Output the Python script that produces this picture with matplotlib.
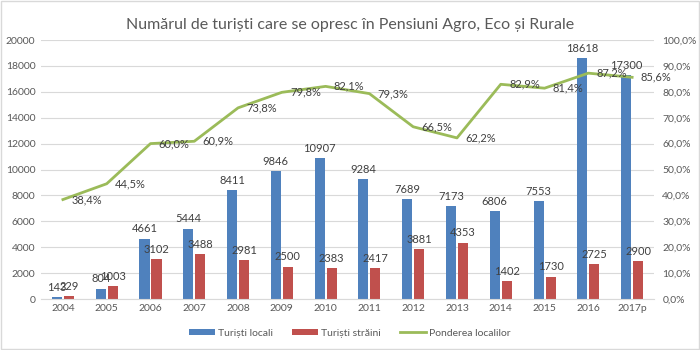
import matplotlib
matplotlib.use("Agg")
import matplotlib.pyplot as plt
import numpy as np

years = ["2004", "2005", "2006", "2007", "2008", "2009", "2010", "2011", "2012",
         "2013", "2014", "2015", "2016", "2017p"]
locali = [143, 804, 4661, 5444, 8411, 9846, 10907, 9284, 7689, 7173, 6806, 7553, 18618, 17300]
straini = [229, 1003, 3102, 3488, 2981, 2500, 2383, 2417, 3881, 4353, 1402, 1730, 2725, 2900]
pondere = [38.4, 44.5, 60.0, 60.9, 73.8, 79.8, 82.1, 79.3, 66.5, 62.2, 82.9, 81.4, 87.2, 85.6]

plt.rcParams['font.family'] = ['Lato', 'DejaVu Sans']
txt = '#595959'
lbl = '#404040'
blue = '#4F81BD'
red = '#C0504D'
green = '#9BBB59'

fig = plt.figure(figsize=(7, 3.5), dpi=100)
ax = fig.add_axes([0.0586, 0.1457, 0.8757, 0.74])
x = np.arange(len(years))
w = 0.23
off = 0.137
b1 = ax.bar(x - off, locali, w, color=blue, label='Turiști locali', zorder=2)
b2 = ax.bar(x + off, straini, w, color=red, label='Turiști străini', zorder=2)
ax.set_ylim(0, 20000)
ax.set_yticks(range(0, 20001, 2000))
ax.set_xlim(-0.5, len(years) - 0.5)
ax.set_xticks(x)
ax.set_xticklabels(years)
ax.tick_params(axis='both', length=0, colors=txt, labelsize=7.5)
ax.tick_params(axis='y', pad=4)
ax.grid(axis='y', color='#D9D9D9', linewidth=0.8, zorder=0)
for s in ['top', 'right', 'left']:
    ax.spines[s].set_visible(False)
ax.spines['bottom'].set_color('#D9D9D9')
for xi, v in zip(x - off, locali):
    ax.annotate(str(v), (xi, v), xytext=(0, 3), textcoords='offset points',
                ha='center', va='bottom', fontsize=8, color=lbl)
for xi, v in zip(x + off, straini):
    ax.annotate(str(v), (xi, v), xytext=(0, 3), textcoords='offset points',
                ha='center', va='bottom', fontsize=8, color=lbl)

ax2 = ax.twinx()
ax2.plot(x, pondere, color=green, linewidth=2, label='Ponderea localilor', zorder=3)
ax2.set_ylim(0, 100)
ax2.set_yticks(range(0, 101, 10))
ax2.set_yticklabels([f"{v:.1f}%".replace('.', ',') for v in range(0, 101, 10)])
ax2.tick_params(axis='y', length=0, colors=txt, labelsize=7.5, pad=6)
for s in ['top', 'right', 'left', 'bottom']:
    ax2.spines[s].set_visible(False)
for xi, v in zip(x, pondere):
    ax2.annotate(f"{v:.1f}%".replace('.', ','), (xi, v), xytext=(6, 0),
                 textcoords='offset points', ha='left', va='center', fontsize=8, color=lbl)

fig.suptitle('Numărul de turiști care se opresc în Pensiuni Agro, Eco și Rurale',
             y=0.95, fontsize=11.5, color=txt)
h1, l1 = ax.get_legend_handles_labels()
h2, l2 = ax2.get_legend_handles_labels()
fig.legend(h1 + h2, l1 + l2, loc='center', bbox_to_anchor=(0.5, 0.048), ncol=3,
           frameon=False, fontsize=7.5, labelcolor=txt, handlelength=2.5,
           handleheight=0.5, handletextpad=0.3, columnspacing=1.8)
fig.patches.append(plt.Rectangle((0.002, 0.003), 0.996, 0.994, transform=fig.transFigure,
                                 fill=False, edgecolor='#D9D9D9', linewidth=1))
fig.savefig('out.png', dpi=100)
